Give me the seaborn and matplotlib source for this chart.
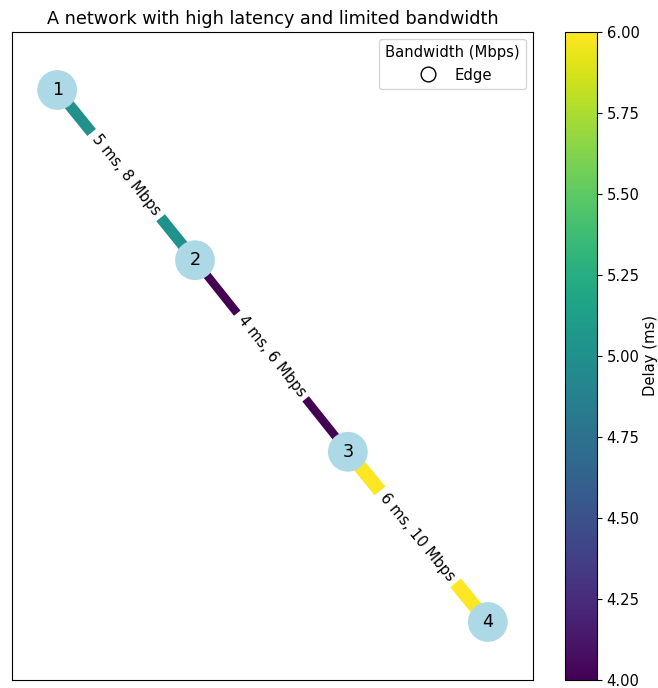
import math
import numpy as np
import pandas as pd
import matplotlib
matplotlib.use("Agg")
import matplotlib.pyplot as plt
from matplotlib.lines import Line2D
import seaborn as sns

# Network topology
nodes = [1, 2, 3, 4]
node_x = [-1.0, -0.36, 0.35, 1.0]
node_y = [1.0, 0.36, -0.36, -1.0]

edge_src = [1, 2, 3]
edge_dst = [2, 3, 4]
delays_ms = [5, 4, 6]
bandwidth_mbps = [8, 6, 10]

pos = {n: (x, y) for n, x, y in zip(nodes, node_x, node_y)}
node_df = pd.DataFrame({"node": nodes, "x": node_x, "y": node_y})

plt.rcParams["font.size"] = 10.6

fig = plt.figure(figsize=(6.58, 6.88), dpi=100)
W, H = 658, 688
ax = fig.add_axes([12 / W, (H - 680) / H, 521 / W, 648 / H])
cax = fig.add_axes([565 / W, (H - 680) / H, 32 / W, 648 / H])

cmap = plt.get_cmap("viridis")
norm = matplotlib.colors.Normalize(vmin=min(delays_ms), vmax=max(delays_ms))

ax.set_xlim(-1.21, 1.21)
ax.set_ylim(-1.218, 1.218)

# Edges: colour encodes delay, width encodes bandwidth
for s, d, dl, bw in zip(edge_src, edge_dst, delays_ms, bandwidth_mbps):
    (x0, y0), (x1, y1) = pos[s], pos[d]
    ax.plot([x0, x1], [y0, y1], color=cmap(norm(dl)), linewidth=bw,
            solid_capstyle="butt", zorder=1)

# Nodes
sns.scatterplot(data=node_df, x="x", y="y", s=820, color="lightblue",
                edgecolor="none", ax=ax, zorder=2, legend=False)
for n, x, y in zip(nodes, node_x, node_y):
    ax.text(x, y, str(n), ha="center", va="center", fontsize=12.7, zorder=4)

# Edge labels, rotated along each edge
for s, d, dl, bw in zip(edge_src, edge_dst, delays_ms, bandwidth_mbps):
    (x0, y0), (x1, y1) = pos[s], pos[d]
    ang = math.degrees(math.atan2(y1 - y0, x1 - x0))
    ax.text((x0 + x1) / 2, (y0 + y1) / 2, f"{dl} ms, {bw} Mbps",
            ha="center", va="center", fontsize=10.6, rotation=ang,
            transform_rotates_text=True, rotation_mode="anchor",
            bbox=dict(boxstyle="round", ec="white", fc="white"), zorder=3)

ax.set_xticks([])
ax.set_yticks([])
ax.set_xlabel("")
ax.set_ylabel("")
ax.set_title("A network with high latency and limited bandwidth", fontsize=12.7)

handle = Line2D([0], [0], marker="o", color="w", markerfacecolor="w",
                markeredgecolor="k", markersize=10.6, linestyle="None")
ax.legend([handle], ["Edge"], title="Bandwidth (Mbps)", loc="upper right",
          fontsize=10.6, title_fontsize=10.6)

sm = matplotlib.cm.ScalarMappable(cmap=cmap, norm=norm)
sm.set_array([])
cb = fig.colorbar(sm, cax=cax)
cb.set_label("Delay (ms)", fontsize=10.6, labelpad=2)
cb.set_ticks(np.arange(4.0, 6.01, 0.25))
cb.ax.yaxis.set_major_formatter(matplotlib.ticker.FormatStrFormatter("%.2f"))
cb.ax.tick_params(labelsize=10.6)

fig.savefig("out.png", dpi=100)
